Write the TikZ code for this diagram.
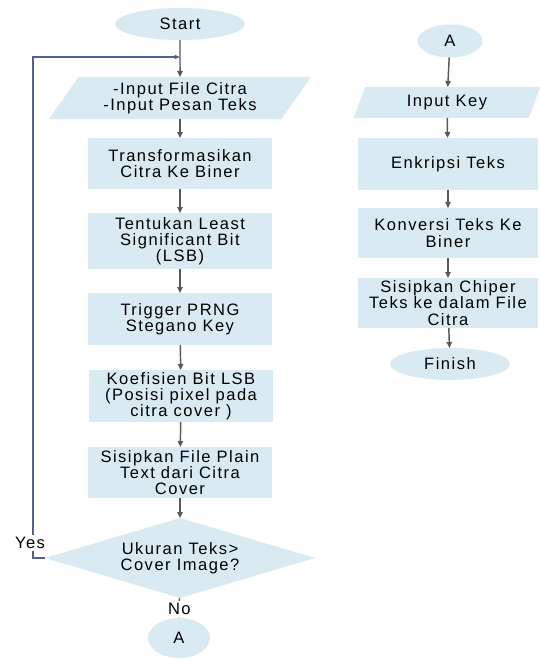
\documentclass[tikz,border=0pt]{standalone}
\usepackage{fontspec}
\setmainfont{Liberation Sans}[LetterSpace=9]
\usetikzlibrary{shapes.geometric,arrows.meta}
\definecolor{boxfill}{RGB}{218,234,242}
\definecolor{flowline}{RGB}{89,89,89}
\definecolor{loopline}{RGB}{79,98,145}
\begin{document}
\begin{tikzpicture}[x=0.75pt,y=-0.75pt,
  every node/.style={font=\fontsize{12.4pt}{12.2pt}\selectfont, text=black, inner sep=0pt, outer sep=0pt},
  procbox/.style={rectangle, fill=boxfill, align=center, minimum width=138pt},
  sidebox/.style={rectangle, fill=boxfill, align=center, minimum width=135pt},
  terminal/.style={ellipse, fill=boxfill},
  iobox/.style={trapezium, trapezium stretches body, fill=boxfill, align=center},
  decision/.style={diamond, fill=boxfill, align=center, aspect=3.375, minimum width=202.5pt, minimum height=60pt},
  flow/.style={draw=flowline, line width=1.1pt, -{Triangle[length=4.5pt,width=4pt]}},
  back/.style={draw=loopline, line width=0.8pt, -{Triangle[length=4pt,width=3pt]}},
  tag/.style={fill=white, inner sep=1.5pt}]

\useasboundingbox (0,0) rectangle (539,660);

% main column
\node[terminal, minimum width=97.5pt, minimum height=24pt] (start) at (180,24) {Start};
\node[iobox, trapezium left angle=47, trapezium right angle=133,
      minimum width=196.5pt, minimum height=31.5pt] (input) at (180,98)
      {-Input File Citra\\-Input Pesan Teks};
\node[procbox, minimum height=38.25pt] (trans) at (180,163.5) {Transformasikan\\Citra Ke Biner};
\node[procbox, minimum height=42pt] (lsb) at (180,241) {Tentukan Least\\Significant Bit\\(LSB)};
\node[procbox, minimum height=39pt] (prng) at (180,319) {Trigger PRNG\\Stegano Key};
\node[procbox, minimum height=39pt] (koef) at (181,396) {Koefisien Bit LSB\\(Posisi pixel pada\\citra cover )};
\node[procbox, minimum height=38.25pt] (sisip) at (180,472.5) {Sisipkan File Plain\\Text dari Citra\\Cover};
\node[decision] (dec) at (180,558) {Ukuran Teks>\\Cover Image?};
\node[terminal, minimum width=46.5pt, minimum height=30pt] (al) at (179,638) {A};

% second column
\node[terminal, minimum width=48.75pt, minimum height=24.75pt] (ar) at (450,41) {A};
\node[iobox, trapezium left angle=52, trapezium right angle=128,
      minimum width=140pt, minimum height=23.25pt] (key) at (447,102.5) {Input Key};
\node[sidebox, minimum height=39pt] (enk) at (448,164) {Enkripsi Teks};
\node[sidebox, minimum height=37.5pt] (konv) at (448,233) {Konversi Teks Ke\\Biner};
\node[sidebox, minimum height=37.5pt] (chip) at (448,303) {Sisipkan Chiper\\Teks ke dalam File\\Citra};
\node[terminal, minimum width=90pt, minimum height=24pt] (fin) at (450,364) {Finish};

% connectors, main column
\coordinate (join) at (180,57);
\coordinate (turn) at (33,558);
\draw[flow] (start) -- (input);
\draw[flow] (input) -- (trans);
\draw[flow] (trans) -- (lsb);
\draw[flow] (lsb) -- (prng);
\draw[flow] (prng) -- (koef);
\draw[flow] (koef) -- (sisip);
\draw[flow] (sisip) -- (dec);
\draw[flow] (dec) -- node[tag, pos=0.55] {No} (al);
\draw[back] (dec.west) -- (turn) |- (join);
\node[tag] (yes) at (30,543) {Yes};

% connectors, second column
\draw[flow] (ar) -- (key);
\draw[flow] (key) -- (enk);
\draw[flow] (enk) -- (konv);
\draw[flow] (konv) -- (chip);
\draw[flow] (chip) -- (fin);
\end{tikzpicture}
\end{document}
